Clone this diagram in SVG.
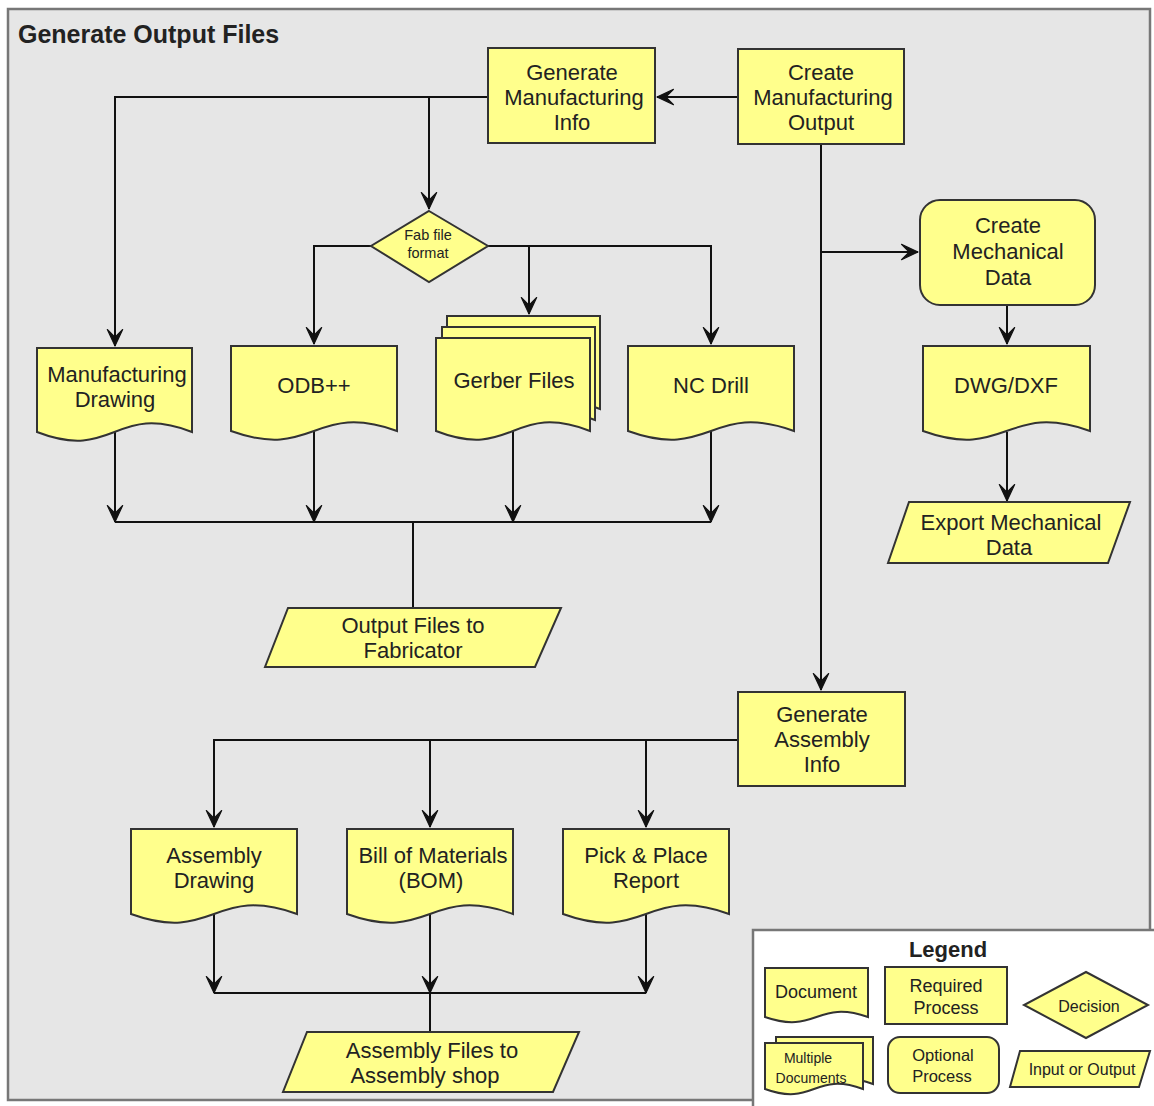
<svg xmlns="http://www.w3.org/2000/svg" width="1154" height="1106" viewBox="0 0 1154 1106">
<style>
.frame{fill:#e6e6e6;stroke:#777;stroke-width:2.5}
.leg{fill:#ffffff;stroke:#777;stroke-width:2.5}
.box{fill:#ffff8c;stroke:#333;stroke-width:2}
.conn{fill:none;stroke:#111;stroke-width:2}
.t{font-family:"Liberation Sans",Arial,sans-serif;font-size:22px;fill:#222;text-anchor:middle}
.title{font-family:"Liberation Sans",Arial,sans-serif;font-size:25px;font-weight:bold;fill:#222}
</style>
<defs>
<marker id="ah" markerUnits="userSpaceOnUse" markerWidth="22" markerHeight="22" viewBox="-18 -9 20 18" refX="0" refY="0" orient="auto">
<path d="M0,0 L-15,-7 L-8,0 L-15,7 Z" fill="#111" stroke="#111" stroke-width="1" stroke-linejoin="round"/>
</marker>
</defs>
<rect class="frame" x="8" y="9" width="1142" height="1091"/>
<text class="title" x="18" y="43">Generate Output Files</text>

<g id="connectors">
<path class="conn" d="M738,97 H657" marker-end="url(#ah)"/>
<path class="conn" d="M488,97 H115 V346" marker-end="url(#ah)"/>
<path class="conn" d="M429,97 V209" marker-end="url(#ah)"/>
<path class="conn" d="M371,246 H314 V344" marker-end="url(#ah)"/>
<path class="conn" d="M488,246 H711 V344" marker-end="url(#ah)"/>
<path class="conn" d="M529,246 V314" marker-end="url(#ah)"/>
<path class="conn" d="M821,144 V690" marker-end="url(#ah)"/>
<path class="conn" d="M821,252 H918" marker-end="url(#ah)"/>
<path class="conn" d="M1007,305 V344" marker-end="url(#ah)"/>
<path class="conn" d="M1007,432 V501" marker-end="url(#ah)"/>
<path class="conn" d="M115,432 V522" marker-end="url(#ah)"/>
<path class="conn" d="M314,431 V522" marker-end="url(#ah)"/>
<path class="conn" d="M513,431 V522" marker-end="url(#ah)"/>
<path class="conn" d="M711,431 V522" marker-end="url(#ah)"/>
<path class="conn" d="M115,522 H711 M413,522 V608"/>
<path class="conn" d="M738,740 H214 V827" marker-end="url(#ah)"/>
<path class="conn" d="M430,740 V827" marker-end="url(#ah)"/>
<path class="conn" d="M646,740 V827" marker-end="url(#ah)"/>
<path class="conn" d="M214,914 V993" marker-end="url(#ah)"/>
<path class="conn" d="M430,914 V993" marker-end="url(#ah)"/>
<path class="conn" d="M646,914 V993" marker-end="url(#ah)"/>
<path class="conn" d="M214,993 H646 M430,993 V1032"/>
</g>

<g id="gen-mfg-info">
<rect class="box" x="488" y="48" width="167" height="95"/>
<text class="t" x="572" y="80">Generate</text>
<text class="t" x="574" y="105">Manufacturing</text>
<text class="t" x="572" y="130">Info</text>
</g>
<g id="create-mfg-output">
<rect class="box" x="738" y="49" width="166" height="95"/>
<text class="t" x="821" y="80">Create</text>
<text class="t" x="823" y="105">Manufacturing</text>
<text class="t" x="821" y="130">Output</text>
</g>
<g id="fab-format">
<polygon class="box" points="429,211 488,246 429,282 371,246"/>
<text class="t" x="428" y="240" style="font-size:14.5px">Fab file</text>
<text class="t" x="428" y="258" style="font-size:14.5px">format</text>
</g>
<g id="mfg-drawing">
<path class="box" d="M37,348 H192 V432 C114.5,402 114.5,462 37,432 Z"/>
<text class="t" x="117" y="382">Manufacturing</text>
<text class="t" x="115" y="407">Drawing</text>
</g>
<g id="odb">
<path class="box" d="M231,346 H397 V431 C314,401 314,461 231,431 Z"/>
<text class="t" x="314" y="393">ODB++</text>
</g>
<g id="gerber">
<path class="box" d="M447,316 H600 V409 C523.5,379 523.5,439 447,409 Z"/>
<path class="box" d="M442,327 H595 V420 C518.5,390 518.5,450 442,420 Z"/>
<path class="box" d="M436,338 H590 V431 C513,401 513,461 436,431 Z"/>
<text class="t" x="514" y="388">Gerber Files</text>
</g>
<g id="nc-drill">
<path class="box" d="M628,346 H794 V431 C711,401 711,461 628,431 Z"/>
<text class="t" x="711" y="393">NC Drill</text>
</g>
<g id="create-mech">
<rect class="box" x="920" y="200" width="175" height="105" rx="20"/>
<text class="t" x="1008" y="233">Create</text>
<text class="t" x="1008" y="259">Mechanical</text>
<text class="t" x="1008" y="285">Data</text>
</g>
<g id="dwg">
<path class="box" d="M923,346 H1090 V431 C1006.5,401 1006.5,461 923,431 Z"/>
<text class="t" x="1006" y="393">DWG/DXF</text>
</g>
<g id="export-mech">
<polygon class="box" points="909,502 1130,502 1108,563 888,563"/>
<text class="t" x="1011" y="530">Export Mechanical</text>
<text class="t" x="1009" y="555">Data</text>
</g>
<g id="output-fab">
<polygon class="box" points="288,608 561,608 535,667 265,667"/>
<text class="t" x="413" y="633">Output Files to</text>
<text class="t" x="413" y="658">Fabricator</text>
</g>
<g id="gen-asm-info">
<rect class="box" x="738" y="692" width="167" height="94"/>
<text class="t" x="822" y="722">Generate</text>
<text class="t" x="822" y="747">Assembly</text>
<text class="t" x="822" y="772">Info</text>
</g>
<g id="asm-drawing">
<path class="box" d="M131,829 H297 V914 C214,884 214,944 131,914 Z"/>
<text class="t" x="214" y="863">Assembly</text>
<text class="t" x="214" y="888">Drawing</text>
</g>
<g id="bom">
<path class="box" d="M347,829 H513 V914 C430,884 430,944 347,914 Z"/>
<text class="t" x="433" y="863">Bill of Materials</text>
<text class="t" x="431" y="888">(BOM)</text>
</g>
<g id="pick-place">
<path class="box" d="M563,829 H729 V914 C646,884 646,944 563,914 Z"/>
<text class="t" x="646" y="863">Pick &amp; Place</text>
<text class="t" x="646" y="888">Report</text>
</g>
<g id="asm-files">
<polygon class="box" points="307,1032 579,1032 553,1092 283,1092"/>
<text class="t" x="432" y="1058">Assembly Files to</text>
<text class="t" x="425" y="1083">Assembly shop</text>
</g>

<g id="legend">
<rect class="leg" x="753" y="930" width="420" height="200"/>
<text class="t" x="948" y="957" style="font-weight:bold">Legend</text>
<path class="box" d="M765,968 H868 V1017 C816.5,999 816.5,1035 765,1017 Z"/>
<text class="t" x="816" y="998" style="font-size:18px">Document</text>
<rect class="box" x="885" y="967" width="122" height="57"/>
<text class="t" x="946" y="992" style="font-size:18px">Required</text>
<text class="t" x="946" y="1014" style="font-size:18px">Process</text>
<polygon class="box" points="1086,972 1148,1005 1086,1038 1024,1005"/>
<text class="t" x="1089" y="1012" style="font-size:16px">Decision</text>
<path class="box" d="M776,1037 H873 V1084 C824.5,1066 824.5,1102 776,1084 Z"/>
<path class="box" d="M765,1043 H863 V1089 C814,1071 814,1107 765,1089 Z"/>
<text class="t" x="808" y="1063" style="font-size:14px">Multiple</text>
<text class="t" x="811" y="1083" style="font-size:14px">Documents</text>
<rect class="box" x="888" y="1037" width="111" height="56" rx="12"/>
<text class="t" x="943" y="1061" style="font-size:16.5px">Optional</text>
<text class="t" x="942" y="1082" style="font-size:16.5px">Process</text>
<polygon class="box" points="1020,1051 1150,1051 1139,1087 1010,1087"/>
<text class="t" x="1082" y="1075" style="font-size:16px">Input or Output</text>
</g>
</svg>
